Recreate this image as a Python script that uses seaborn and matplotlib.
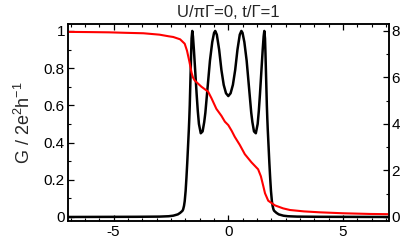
import numpy as np
import pandas as pd
import matplotlib
matplotlib.use("Agg")
import matplotlib.pyplot as plt
import seaborn as sns
from matplotlib.ticker import MultipleLocator

# ---- data ----
x_g = [-7.0, -4.0, -3.0, -2.6, -2.4, -2.2, -2.1, -2.0, -1.97, -1.93, -1.9, -1.86,
       -1.825, -1.79, -1.755, -1.72, -1.70, -1.68, -1.65, -1.62, -1.6, -1.57,
       -1.54, -1.5, -1.46, -1.42, -1.38, -1.33, -1.28, -1.2, -1.12, -1.05, -1.0,
       -0.9, -0.8, -0.7, -0.62, -0.57, -0.5, -0.4, -0.3, -0.2, -0.1, 0.0,
       0.1, 0.2, 0.3, 0.4, 0.5, 0.57, 0.62, 0.7, 0.8, 0.9, 1.0, 1.05, 1.12, 1.2,
       1.28, 1.33, 1.38, 1.42, 1.46, 1.5, 1.54, 1.57, 1.6, 1.62, 1.65, 1.68, 1.70,
       1.72, 1.755, 1.79, 1.825, 1.86, 1.9, 1.93, 1.97, 2.0, 2.1, 2.2, 2.4, 2.6,
       3.0, 4.0, 7.0]
g = [0.0, 0.001, 0.002, 0.004, 0.007, 0.014, 0.022, 0.033, 0.04, 0.06, 0.085, 0.14,
     0.21, 0.29, 0.38, 0.47, 0.53, 0.60, 0.74, 0.88, 0.96, 1.0,
     0.97, 0.90, 0.82, 0.74, 0.66, 0.57, 0.50, 0.45, 0.46, 0.51, 0.56,
     0.70, 0.84, 0.94, 0.99, 1.0, 0.98, 0.90, 0.79, 0.71, 0.665, 0.65,
     0.665, 0.71, 0.79, 0.90, 0.98, 1.0, 0.99, 0.94, 0.84, 0.70, 0.56, 0.51, 0.46, 0.45,
     0.50, 0.57, 0.66, 0.74, 0.82, 0.90, 0.97, 1.0, 0.96, 0.88, 0.74, 0.60, 0.53,
     0.47, 0.38, 0.29, 0.21, 0.14, 0.085, 0.06, 0.04, 0.033, 0.022, 0.014, 0.007, 0.004,
     0.002, 0.001, 0.0]

x_n = [-7.0, -6.0, -5.2, -4.5, -3.7, -3.0, -2.6, -2.4, -2.1, -1.9, -1.8, -1.76,
       -1.7, -1.65, -1.6, -1.54, -1.47, -1.39, -1.17, -0.88, -0.73, -0.52, -0.3,
       -0.15, 0.0, 0.15, 0.28, 0.5, 0.72, 1.01, 1.3, 1.42, 1.52, 1.6, 1.74, 2.03,
       2.39, 2.69, 3.3, 4.0, 5.0, 6.18, 7.0]
n = [7.96, 7.95, 7.94, 7.92, 7.9, 7.84, 7.77, 7.74, 7.64, 7.45, 7.15, 6.97,
     6.7, 6.45, 6.2, 6.0, 5.88, 5.8, 5.6, 5.39, 5.1, 4.65, 4.35,
     4.1, 3.95, 3.7, 3.45, 3.1, 2.7, 2.35, 2.05, 1.75, 1.35, 1.02, 0.70, 0.50,
     0.37, 0.30, 0.24, 0.20, 0.16, 0.13, 0.12]

title = "U/\u03c0\u0393=0, t/\u0393=1"
ylabel = r"G / 2e$^{2}$h$^{-1}$"

# ---- style ----
sns.set_style("ticks")
plt.rcParams['font.family'] = ['Liberation Sans', 'DejaVu Sans']
plt.rcParams['mathtext.default'] = 'regular'
plt.rcParams['axes.unicode_minus'] = False

fig = plt.figure(figsize=(4.03, 2.40), dpi=100)
ax = fig.add_axes([0.168, 0.0804, 0.797, 0.8186])

df_g = pd.DataFrame({"x": x_g, "G": g})
df_n = pd.DataFrame({"x": x_n, "n": n})

sns.lineplot(data=df_g, x="x", y="G", ax=ax, color="black", linewidth=1.8,
             estimator=None)
ax2 = ax.twinx()
sns.lineplot(data=df_n, x="x", y="n", ax=ax2, color="#ff0000", linewidth=1.5,
             estimator=None)

ax.set_xlim(-7, 7)
ax.set_ylim(-0.02, 1.036)
ax2.set_ylim(-0.16, 8.288)

ax.xaxis.set_major_locator(MultipleLocator(5))
ax.xaxis.set_minor_locator(MultipleLocator(0.625))
ax.yaxis.set_major_locator(MultipleLocator(0.2))
ax.yaxis.set_minor_locator(MultipleLocator(0.1))
ax2.yaxis.set_major_locator(MultipleLocator(2))
ax2.yaxis.set_minor_locator(MultipleLocator(1))

ax.yaxis.set_major_formatter(matplotlib.ticker.FuncFormatter(
    lambda v, p: "0" if abs(v) < 1e-9 else ("1" if abs(v - 1) < 1e-9 else f"{v:.1f}")))

for a in (ax, ax2):
    for s in a.spines.values():
        s.set_linewidth(1.1)
        s.set_color("black")

ax.tick_params(axis='x', which='both', direction='in', top=True, bottom=True,
               labelsize=11, pad=3, colors='black')
ax.tick_params(axis='y', which='both', direction='in', left=True, right=False,
               labelsize=11, pad=2, colors='black')
ax.tick_params(which='major', length=4, width=0.9)
ax.tick_params(which='minor', length=2.5, width=0.8)
ax2.tick_params(axis='y', which='both', direction='in', right=True, labelsize=11,
                pad=2, colors='black')
ax2.tick_params(which='major', length=4, width=0.9)
ax2.tick_params(which='minor', length=2.5, width=0.8)

ax.set_xlabel("")
ax2.set_ylabel("")
ax.set_ylabel(ylabel, fontsize=13, labelpad=7)
ax.set_title(title, fontsize=12, pad=5)

fig.savefig("out.png", dpi=100)
